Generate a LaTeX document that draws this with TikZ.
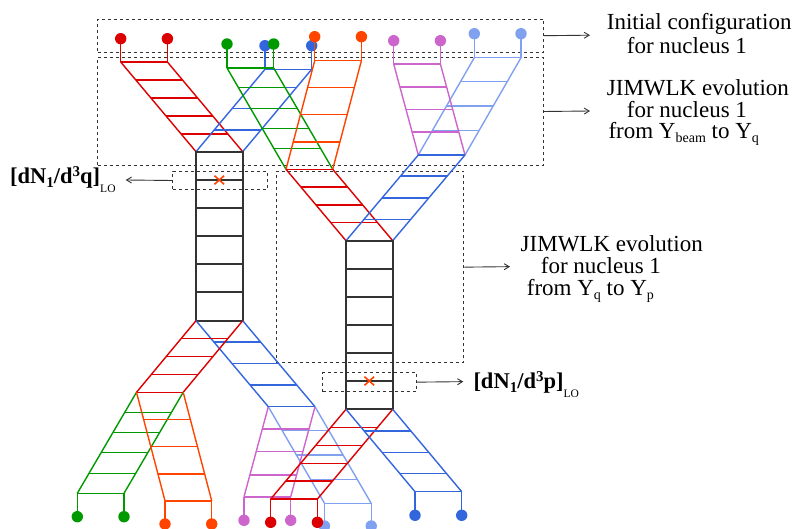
\documentclass[tikz,border=0pt]{standalone}
\usepackage{fontspec}
\setmainfont{Liberation Serif}
\usetikzlibrary{arrows.meta,shapes.misc}
\definecolor{cR}{HTML}{DD0000}
\definecolor{cG}{HTML}{009900}
\definecolor{cO}{HTML}{FF4400}
\definecolor{cB}{HTML}{3366DD}
\definecolor{cM}{HTML}{CC66CC}
\definecolor{cL}{HTML}{80A0F0}
\definecolor{cK}{HTML}{333333}
\def\ladw{46.7}
\tikzset{
  rail/.style={line width=1.4pt},
  boxline/.style={line width=1.8pt, draw=cK},
  dbox/.style={draw=cK, line width=1pt, dash pattern=on 3pt off 3pt, inner sep=0pt, anchor=north west},
  arr/.style={draw=cK, line width=0.9pt, -{Straight Barb[length=5pt,width=6pt]}},
  txt/.style={anchor=base west, inner sep=0pt, font=\fontsize{23}{25}\selectfont},
  lbl/.style={anchor=base west, inner sep=0pt, font=\fontsize{22.5}{25}\selectfont\bfseries},
  xmark/.style={cross out, draw=cO, line width=1.6pt, minimum width=8pt, minimum height=7pt, inner sep=0pt},
}
% #1 colour, #2 x far, #3 y far, #4 x root, #5 y root, #6 rungs
\newcommand\drawladder[6]{%
  \draw[rail,#1] (#2,#3) -- (#4,#5);
  \draw[rail,#1] (#2+\ladw,#3) -- (#4+\ladw,#5);
  \draw[rail,#1] (#2,#3) -- ++(\ladw,0);
  \foreach \ry in {#6}{%
    \pgfmathsetmacro\rx{#2+(#4-#2)*(\ry-#3)/(#5-#3)}%
    \draw[rail,#1] (\rx,\ry) -- ++(\ladw,0);
  }%
}
% #1 colour, #2 x left, #3 y line, #4 y dot
\newcommand\leafdots[4]{%
  \draw[rail,#1] (#2,#3) -- (#2,#4) (#2+\ladw,#3) -- (#2+\ladw,#4);
  \fill[#1] (#2,#4) circle[radius=5.7pt] (#2+\ladw,#4) circle[radius=5.7pt];
}
\newcommand\smallsub[2]{\raisebox{#1}{\fontsize{14}{14}\selectfont #2}}
\begin{document}
\begin{tikzpicture}[x=1pt,y=-1pt]
\useasboundingbox (0,0) rectangle (795,529);

% dashed boxes
\node[dbox, minimum width=446pt, minimum height=33pt] (init) at (97,18.7) {};
\node[dbox, minimum width=446pt, minimum height=107.4pt] (evoA) at (97,57.3) {};
\node[dbox, minimum width=187.6pt, minimum height=191.3pt] (evoB) at (275.7,171) {};
\node[dbox, minimum width=94.2pt, minimum height=18.6pt] (qbox) at (172.3,170.7) {};
\node[dbox, minimum width=93.7pt, minimum height=18.7pt] (pbox) at (322.3,372.3) {};

% ---------- top part ----------
\drawladder{cR}{120.7}{62}{196}{151.7}{80,98,116,134}
\leafdots{cR}{120.7}{62}{38.7}
\drawladder{cB}{265}{69.3}{196}{151.7}{87.7,108.7,130}
\leafdots{cB}{265}{69.3}{45.7}
\drawladder{cG}{227}{68}{286}{169.3}{87.7,108.3,128.3,148.7}
\leafdots{cG}{227}{68}{44}
\drawladder{cO}{314.7}{60.7}{286}{169.3}{87.7,114.7,142}
\leafdots{cO}{314.7}{60.7}{36.7}
\drawladder{cR}{286}{169.3}{346}{240.7}{187,205,222.7}
\drawladder{cL}{474.3}{57.7}{418.3}{155}{81.7,106,130.3}
\leafdots{cL}{474.3}{57.7}{33.7}
\drawladder{cM}{393.7}{64}{418.3}{155}{87,109.3,132}
\leafdots{cM}{393.7}{64}{40.7}
\drawladder{cB}{418.3}{155}{346}{240.7}{176,198,219.3}

% ---------- black boxes ----------
\draw[boxline] (196,151.7) rectangle (242.7,320.7);
\foreach \ry in {180,208.3,236.3,264.3,292.3} \draw[boxline] (196,\ry) -- ++(\ladw,0);
\draw[boxline] (346,240.7) rectangle (392.7,409.3);
\foreach \ry in {269,297,325,353,381} \draw[boxline] (346,\ry) -- ++(\ladw,0);

% ---------- bottom part ----------
\drawladder{cL}{324.5}{503.3}{268.3}{406.7}{430.7,455,479.3}
\leafdots{cL}{324.5}{503.3}{526}
\drawladder{cM}{244}{496.8}{268.3}{406.7}{429,451.7,475}
\leafdots{cM}{244}{496.8}{520.3}
\drawladder{cB}{268.3}{406.7}{196}{320.7}{342,363.3,385}
\drawladder{cR}{136.5}{392.3}{196}{320.7}{338.7,356.7,374.3}
\drawladder{cG}{77.3}{493.3}{136.5}{392.3}{412.5,432.7,452.7,473.3}
\leafdots{cG}{77.3}{493.3}{516.7}
\drawladder{cO}{165}{500.8}{136.5}{392.3}{419.3,446.7,474}
\leafdots{cO}{165}{500.8}{524}
\drawladder{cR}{270.7}{499}{346}{409.3}{427.3,445.5,463.3,481}
\leafdots{cR}{270.7}{499}{522.3}
\drawladder{cB}{415}{491.7}{346}{409.3}{431,452.5,473.7}
\leafdots{cB}{415}{491.7}{515.3}

% crosses
\node[xmark] (xq) at (219.3,180) {};
\node[xmark] (xp) at (369.3,381) {};

% arrow ends
\coordinate (e1) at (590,35.2);
\coordinate (e2) at (590,111);
\coordinate (e3) at (510,266.65);
\coordinate (eq) at (125.7,180);
\coordinate (ep) at (463.3,381.65);
\draw[arr] (init.east) -- (e1);
\draw[arr] (evoA.east) -- (e2);
\draw[arr] (evoB.east) -- (e3);
\draw[arr] (qbox.west) -- (eq);
\draw[arr] (pbox.east) -- (ep);

% texts
\node[txt] (t1a) at (606.7,29.3) {Initial configuration};
\node[txt] (t1b) at (626.7,54) {for nucleus 1};
\node[txt] (t2a) at (606.7,96) {JIMWLK evolution};
\node[txt] (t2b) at (626.7,117.3) {for nucleus 1};
\node[txt] (t2c) at (608.3,138.3) {from Y\smallsub{-4pt}{beam} to Y\smallsub{-4pt}{q}};
\node[txt] (t3a) at (520.5,251.7) {JIMWLK evolution};
\node[txt] (t3b) at (540.7,273.3) {for nucleus 1};
\node[txt] (t3c) at (526.7,296) {from Y\smallsub{-4pt}{q} to Y\smallsub{-4pt}{p}};

\node[lbl] (lq) at (10,183.3) {[dN\raisebox{-4pt}{\fontsize{15}{15}\selectfont 1}/d\raisebox{7pt}{\fontsize{15}{15}\selectfont 3}q]\raisebox{-9pt}{\fontsize{11.5}{12}\selectfont\mdseries LO}};
\node[lbl] (lp) at (473.3,388) {[dN\raisebox{-4pt}{\fontsize{15}{15}\selectfont 1}/d\raisebox{7pt}{\fontsize{15}{15}\selectfont 3}p]\raisebox{-9pt}{\fontsize{11.5}{12}\selectfont\mdseries LO}};
\end{tikzpicture}
\end{document}
